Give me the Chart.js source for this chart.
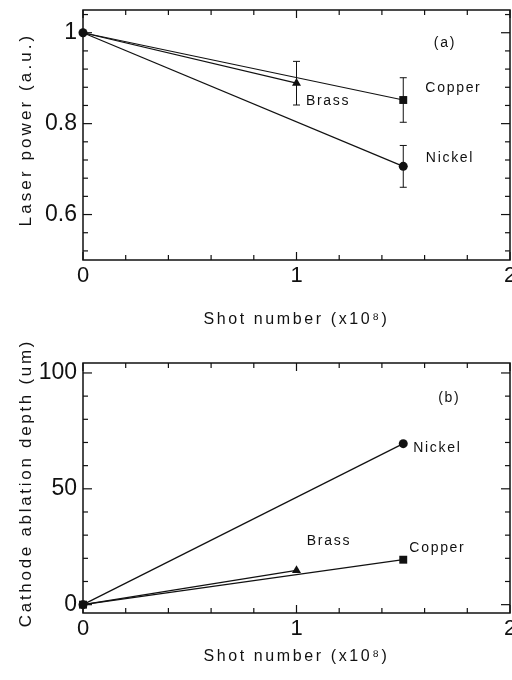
<!DOCTYPE html>
<html><head><meta charset="utf-8">
<script src="https://cdn.jsdelivr.net/npm/chart.js@4.4.1/dist/chart.umd.min.js"></script>
<style>
html,body{margin:0;padding:0;background:#fff;overflow:hidden;width:512px;height:680px}
canvas{position:absolute;left:0}
#c1{top:0}
#c2{top:330px}
</style></head><body>
<canvas id="c1" width="540" height="330"></canvas>
<canvas id="c2" width="540" height="350"></canvas>
<script>
// ---------------- data ----------------
const nickelShots = [0, 1.5];
const copperShots = [0, 1.5];
const brassShots  = [0, 1];

// (a) laser power (a.u.)
const nickelPower = [1, 0.706];
const copperPower = [1, 0.852];
const brassPower  = [1, 0.889];
const nickelPowerErr = [0, 0.046];
const copperPowerErr = [0, 0.049];
const brassPowerErr  = [0, 0.048];

// (b) cathode ablation depth (um)
const nickelDepth = [0, 69.5];
const copperDepth = [0, 19.4];
const brassDepth  = [0, 14.8];

// tick values
const xMajorTicks = [0, 1, 2];
const xMinorTicks = [0.2, 0.4, 0.6, 0.8, 1.2, 1.4, 1.6, 1.8];
const powerMajorTicks = [0.6, 0.8, 1];
const powerMinorTicks = [0.52, 0.56, 0.64, 0.68, 0.72, 0.76, 0.84, 0.88, 0.92, 0.96, 1.04];
const depthMajorTicks = [0, 50, 100];
const depthMinorTicks = [10, 20, 30, 40, 60, 70, 80, 90];

const xTitle = 'Shot number (x10\u2078)';
const powerTitle = 'Laser power (a.u.)';
const depthTitle = 'Cathode ablation depth (um)';
const seriesNames = ['Nickel', 'Copper', 'Brass'];

// ---------------- styling / plugins ----------------
const FONT = '"Liberation Sans", Arial, Helvetica, sans-serif';

const frameTicks = {
  id: 'frameTicks',
  beforeDatasetsDraw(chart, args, o) {
    const {ctx, chartArea: {left, right, top, bottom}, scales: {x, y}} = chart;
    ctx.save();
    ctx.strokeStyle = '#111';
    ctx.lineWidth = 1.5;
    ctx.strokeRect(left, top, right - left, bottom - top);
    ctx.lineWidth = 1.2;
    const seg = (x1, y1, x2, y2) => { ctx.beginPath(); ctx.moveTo(x1, y1); ctx.lineTo(x2, y2); ctx.stroke(); };
    const xt = (vals, len) => vals.forEach(v => { const p = x.getPixelForValue(v); seg(p, bottom, p, bottom - len); seg(p, top, p, top + len); });
    const yt = (vals, len) => vals.forEach(v => { const p = y.getPixelForValue(v); seg(left, p, left + len, p); seg(right, p, right - len, p); });
    xt(o.xMajor, 8); xt(o.xMinor, 5);
    yt(o.yMajor, 9); yt(o.yMinor, 5);
    ctx.restore();
  }
};

const errorBars = {
  id: 'errorBars',
  beforeDatasetsDraw(chart) {
    const {ctx, scales: {x, y}} = chart;
    ctx.save();
    ctx.strokeStyle = '#111';
    ctx.lineWidth = 1;
    chart.data.datasets.forEach(ds => {
      if (!ds.errors) return;
      ds.data.forEach((pt, i) => {
        const e = ds.errors[i];
        if (!e) return;
        const px = x.getPixelForValue(pt.x);
        const p1 = y.getPixelForValue(pt.y - e);
        const p2 = y.getPixelForValue(pt.y + e);
        ctx.beginPath();
        ctx.moveTo(px, p1); ctx.lineTo(px, p2);
        ctx.moveTo(px - 3.5, p1); ctx.lineTo(px + 3.5, p1);
        ctx.moveTo(px - 3.5, p2); ctx.lineTo(px + 3.5, p2);
        ctx.stroke();
      });
    });
    ctx.restore();
  }
};

const textLabels = {
  id: 'textLabels',
  afterDatasetsDraw(chart, args, o) {
    const {ctx, scales: {x, y}} = chart;
    ctx.save();
    ctx.fillStyle = '#111';
    ctx.font = '14px ' + FONT;
    ctx.letterSpacing = '1.7px';
    ctx.textAlign = 'center';
    ctx.textBaseline = 'middle';
    o.items.forEach(it => ctx.fillText(it.text, x.getPixelForValue(it.x), y.getPixelForValue(it.y)));
    ctx.restore();
  }
};

const titleStyle = {
  id: 'titleStyle',
  beforeDraw(chart, args, o) {
    ['x', 'y'].forEach(id => {
      const s = chart.scales[id];
      if (!s || s.__patched) return;
      const orig = s.drawTitle;
      const cfg = o[id] || {};
      s.drawTitle = function () {
        const ctx = this.ctx;
        ctx.save();
        ctx.translate(cfg.dx || 0, cfg.dy || 0);
        ctx.letterSpacing = cfg.spacing || '0px';
        orig.call(this);
        ctx.restore();
      };
      s.__patched = true;
    });
  }
};

function series(xs, ys) { return xs.map((v, i) => ({x: v, y: ys[i]})); }

function makeDatasets(values, errs, originRadius) {
  const styles = [
    {pointStyle: 'circle', r: 4.5},
    {pointStyle: 'rect', r: 5.6},
    {pointStyle: 'triangle', r: 5.2}
  ];
  const shots = [nickelShots, copperShots, brassShots];
  return values.map((vals, k) => ({
    label: seriesNames[k],
    data: series(shots[k], vals),
    errors: errs ? errs[k] : null,
    borderColor: '#111',
    backgroundColor: '#111',
    borderWidth: 1.2,
    pointStyle: styles[k].pointStyle,
    pointRadius: [originRadius[k] ? styles[k].r : 0, styles[k].r],
    pointBorderWidth: 0,
    tension: 0,
    clip: false
  }));
}

function makeOptions(c) {
  return {
    responsive: false,
    animation: false,
    devicePixelRatio: 1,
    events: [],
    layout: {padding: {top: c.padTop, right: 30, bottom: 0, left: 0}},
    plugins: {
      legend: {display: false},
      tooltip: {enabled: false},
      frameTicks: {xMajor: xMajorTicks, xMinor: xMinorTicks, yMajor: c.yMajor, yMinor: c.yMinor},
      textLabels: {items: c.labels},
      titleStyle: {x: {spacing: '2.6px', dx: 0, dy: 0}, y: {spacing: c.yTitleSpacing, dx: 0, dy: c.yTitleDy}}
    },
    scales: {
      x: {
        type: 'linear', min: 0, max: 2,
        grid: {display: false, drawTicks: false},
        border: {display: false},
        afterBuildTicks: s => { s.ticks = xMajorTicks.map(v => ({value: v})); },
        afterFit: s => { s.height = c.xHeight; s.paddingLeft = 0; s.paddingRight = 0; },
        ticks: {autoSkip: false, maxRotation: 0, padding: 3, color: '#111', font: {family: FONT, size: 22}, callback: v => String(v)},
        title: {display: true, text: xTitle, color: '#111', font: {family: FONT, size: 16}, padding: {top: 0, bottom: c.xTitlePad}}
      },
      y: {
        type: 'linear', min: c.yMin, max: c.yMax,
        grid: {display: false, drawTicks: false},
        border: {display: false},
        afterBuildTicks: s => { s.ticks = c.yMajor.map(v => ({value: v})); },
        afterFit: s => { s.width = 83; s.paddingTop = 0; s.paddingBottom = 0; },
        ticks: {autoSkip: false, padding: 6, color: '#111', font: {family: FONT, size: 23}, callback: v => String(v)},
        title: {display: true, text: c.yTitle, color: '#111', font: {family: FONT, size: 17}, padding: {top: 16.5, bottom: 0}}
      }
    }
  };
}

new Chart(document.getElementById('c1'), {
  type: 'line',
  data: {datasets: makeDatasets([nickelPower, copperPower, brassPower], [nickelPowerErr, copperPowerErr, brassPowerErr], [true, false, false])},
  options: makeOptions({
    padTop: 10, xHeight: 70, xTitlePad: 1.2,
    yMin: 0.5, yMax: 1.05, yMajor: powerMajorTicks, yMinor: powerMinorTicks,
    yTitle: powerTitle, yTitleDy: -5.5, yTitleSpacing: '3.1px',
    labels: [
      {text: '(a)', x: 1.695, y: 0.976},
      {text: 'Copper', x: 1.735, y: 0.879},
      {text: 'Brass', x: 1.148, y: 0.849},
      {text: 'Nickel', x: 1.719, y: 0.724}
    ]
  }),
  plugins: [frameTicks, errorBars, textLabels, titleStyle]
});

new Chart(document.getElementById('c2'), {
  type: 'line',
  data: {datasets: makeDatasets([nickelDepth, copperDepth, brassDepth], null, [true, true, false])},
  options: makeOptions({
    padTop: 33, xHeight: 67, xTitlePad: 13.5,
    yMin: -3.6, yMax: 104.3, yMajor: depthMajorTicks, yMinor: depthMinorTicks,
    yTitle: depthTitle, yTitleDy: -5, yTitleSpacing: '2.7px',
    labels: [
      {text: '(b)', x: 1.716, y: 89.1},
      {text: 'Nickel', x: 1.66, y: 67.5},
      {text: 'Brass', x: 1.152, y: 27.6},
      {text: 'Copper', x: 1.66, y: 24.2}
    ]
  }),
  plugins: [frameTicks, errorBars, textLabels, titleStyle]
});
</script>
</body></html>
